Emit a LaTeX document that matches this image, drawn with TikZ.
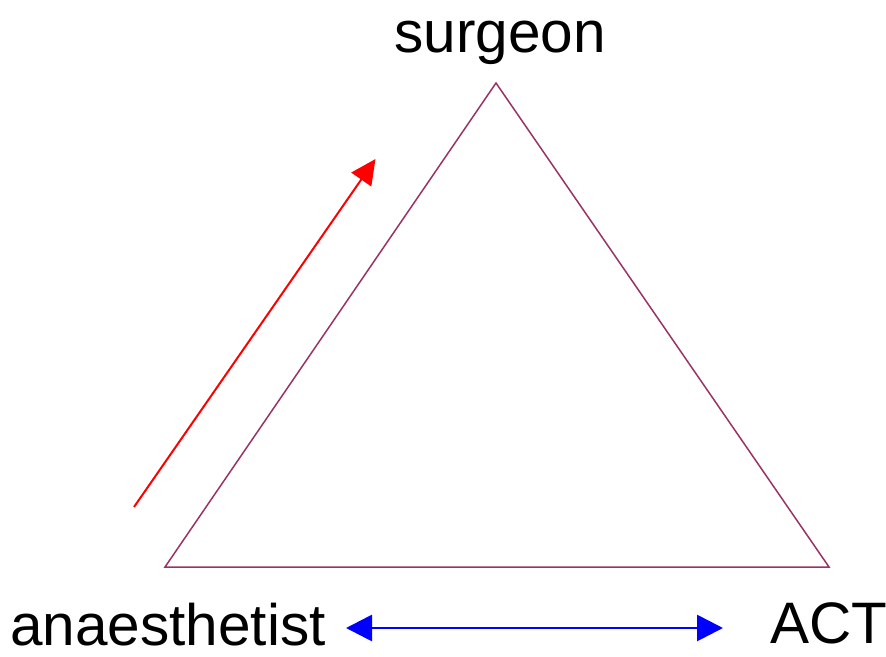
\documentclass[tikz,border=0pt]{standalone}
\usepackage{fontspec}
\setmainfont{Liberation Sans}
\usetikzlibrary{arrows.meta}
\definecolor{triline}{HTML}{993366}
\tikzset{
  lbl/.style={inner sep=0pt, font=\fontsize{58.5}{62}\selectfont},
  triedge/.style={draw=triline, line width=1.5pt, line join=miter},
  redarrow/.style={draw=red, line width=2pt, -{Triangle[length=25pt,width=24pt]}},
  bluearrow/.style={draw=blue, line width=2.8pt, {Triangle[length=26pt,width=26pt]}-{Triangle[length=26pt,width=26pt]}}
}
\begin{document}
\begin{tikzpicture}[x=1pt,y=-1pt]
\useasboundingbox (0,0) rectangle (886,656);
\coordinate (apex) at (496,83);
\coordinate (bl) at (165,567);
\coordinate (br) at (829,567);
\draw[triedge] (apex) -- (bl) -- (br) -- cycle;
\node[lbl, anchor=base] (surgeon) at (500,52) {surgeon};
\node[lbl, anchor=base west] (anaes) at (10,645) {anaesthetist};
\node[lbl, anchor=base west] (act) at (770,643) {ACT};
\coordinate (rs) at (134,507);
\coordinate (re) at (375.5,159);
\draw[redarrow] (rs) -- (re);
\coordinate (bs) at (346,628);
\coordinate (be) at (723,628);
\draw[bluearrow] (bs) -- (be);
\end{tikzpicture}
\end{document}
